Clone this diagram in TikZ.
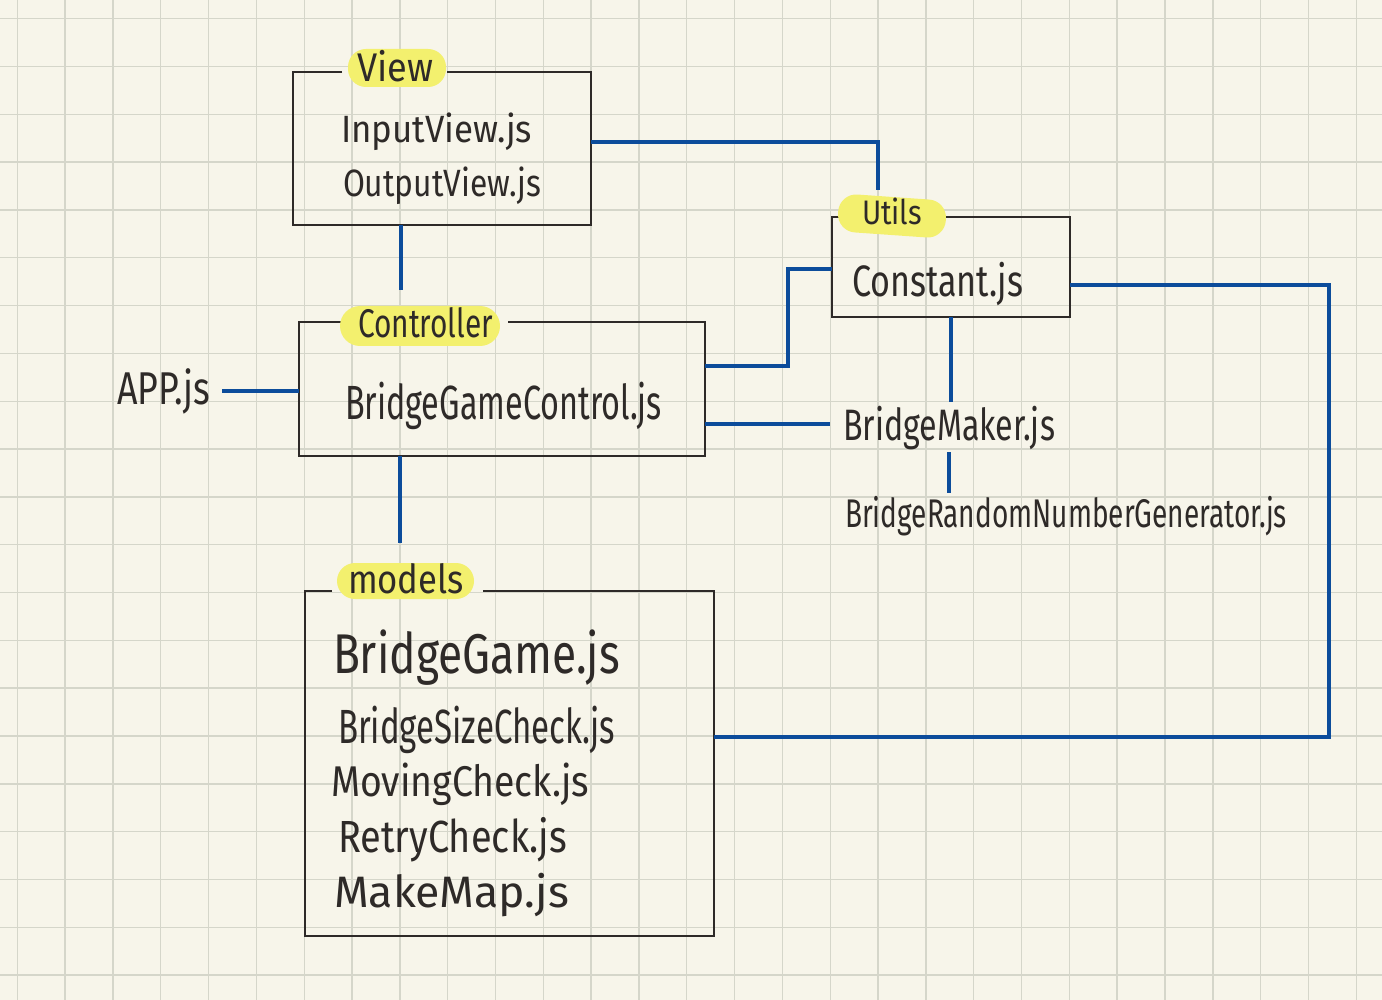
\documentclass[tikz,border=0pt]{standalone}
\usepackage{fontspec}
\setmainfont{Fira Sans}
\usepackage{graphicx}
\definecolor{bg}{RGB}{247,245,234}
\definecolor{gridc}{RGB}{213,214,202}
\definecolor{ink}{RGB}{46,42,40}
\definecolor{wire}{RGB}{12,76,155}
\definecolor{hl}{RGB}{243,240,110}
\newcommand{\hw}[3]{\resizebox{#1pt}{\height}{\fontsize{#2}{#2}\selectfont #3}}
\tikzset{
  gridline/.style={draw=gridc, line width=1.4pt},
  frame/.style={draw=none, inner sep=0pt, outer sep=0pt},
  boxline/.style={draw=ink, line width=2.9pt, line join=miter},
  wire/.style={draw=wire, line width=3.6pt, line join=miter},
  hlbox/.style={fill=hl, draw=none, rounded corners=18pt, inner sep=0pt},
  txt/.style={anchor=base west, inner sep=0pt, outer sep=0pt, text=ink},
}
\begin{document}
\begin{tikzpicture}[x=1pt,y=-1pt]
\useasboundingbox (0,0) rectangle (1382,1000);
\fill[bg] (0,0) rectangle (1382,1000);
\foreach \i in {0,...,28} \draw[gridline] ({17.3+47.82*\i},0) -- ++(0,1000);
\foreach \j in {0,...,20} \draw[gridline] (0,{18.7+47.82*\j}) -- ++(1382,0);

% box frames
\node[frame, minimum width=298pt, minimum height=153pt] (view) at (442,148.5) {};
\node[frame, minimum width=238pt, minimum height=100pt] (utils) at (951,267) {};
\node[frame, minimum width=406pt, minimum height=134pt] (ctrl) at (502,389) {};
\node[frame, minimum width=409pt, minimum height=345pt] (models) at (509.5,763.5) {};

\coordinate (viewL) at (342,72);  \coordinate (viewR) at (447,72);
\coordinate (utilsL) at (853,217); \coordinate (utilsR) at (943,217);
\coordinate (ctrlL) at (342,322); \coordinate (ctrlR) at (508,322);
\coordinate (modelsL) at (332,591); \coordinate (modelsR) at (483,591);

\draw[boxline] (viewL) -- (view.north west) -- (view.south west) -- (view.south east) -- (view.north east) -- (viewR);
\draw[boxline] (utilsL) -- (utils.north west) -- (utils.south west) -- (utils.south east) -- (utils.north east) -- (utilsR);
\draw[boxline] (ctrlL) -- (ctrl.north west) -- (ctrl.south west) -- (ctrl.south east) -- (ctrl.north east) -- (ctrlR);
\draw[boxline] (modelsL) -- (models.north west) -- (models.south west) -- (models.south east) -- (models.north east) -- (modelsR);

% highlights
\node[hlbox, minimum width=98pt, minimum height=38pt] (viewhl) at (397,68) {};
\node[hlbox, minimum width=108pt, minimum height=38pt, rotate=-4] (utilshl) at (892,216) {};
\node[hlbox, minimum width=160pt, minimum height=40pt, rounded corners=20pt] (ctrlhl) at (420,326) {};
\node[hlbox, minimum width=137pt, minimum height=36pt] (modelshl) at (405.5,581) {};

% labels
\node[txt] (viewlbl) at (357,82) {\hw{76}{40}{View}};
\node[txt] (inputview) at (341,143) {\hw{191}{38}{InputView.js}};
\node[txt] (outputview) at (343,197) {\hw{198}{38}{OutputView.js}};
\node[txt] (utilslbl) at (862,225) {\hw{60}{34}{Utils}};
\node[txt] (constant) at (852,297) {\hw{171}{44}{Constant.js}};
\node[txt] (ctrllbl) at (358,338) {\hw{135}{40}{Controller}};
\node[txt] (app) at (117,404) {\hw{93}{46}{APP.js}};
\node[txt] (bgc) at (345,420) {\hw{317}{48}{BridgeGameControl.js}};
\node[txt] (maker) at (843,440) {\hw{212}{44}{BridgeMaker.js}};
\node[txt] (rng) at (845,527) {\hw{442}{40}{BridgeRandomNumberGenerator.js}};
\node[txt] (modelslbl) at (348,593) {\hw{116}{40}{models}};
\node[txt] (bgame) at (333,673) {\hw{287}{56}{BridgeGame.js}};
\node[txt] (bsc) at (338,743) {\hw{277}{48}{BridgeSizeCheck.js}};
\node[txt] (mc) at (331,796) {\hw{258}{43}{MovingCheck.js}};
\node[txt] (rc) at (338,852) {\hw{229}{45}{RetryCheck.js}};
\node[txt] (mm) at (334,907) {\hw{235}{44}{MakeMap.js}};

% connector ends
\coordinate (utilsin) at (878,190);
\coordinate (ctrlin) at (401,290);
\coordinate (makerL) at (830,424);
\coordinate (makertop) at (951,402);
\coordinate (makerbot) at (949,452);
\coordinate (rngtop) at (949,493);
\coordinate (modelsin) at (400,543);
\coordinate (appR) at (222,391);
\coordinate (rail) at (1329,737);

% connectors
\draw[wire] ([yshift=6.5pt]view.east) -| (utilsin);
\draw[wire] ([xshift=-41pt]view.south) -- (ctrlin);
\draw[wire] ([yshift=23pt]ctrl.east) -- ++(83,0) |- ([yshift=-2pt]utils.west);
\draw[wire] ([yshift=-35pt]ctrl.east) -- (makerL);
\draw[wire] (utils.south) -- (makertop);
\draw[wire] (makerbot) -- (rngtop);
\draw[wire] ([xshift=-102pt]ctrl.south) -- (modelsin);
\draw[wire] (appR) -- ([yshift=-2pt]ctrl.west);
\draw[wire] ([yshift=-18pt]utils.east) -| (rail) -- ([yshift=26.5pt]models.east);
\end{tikzpicture}
\end{document}
